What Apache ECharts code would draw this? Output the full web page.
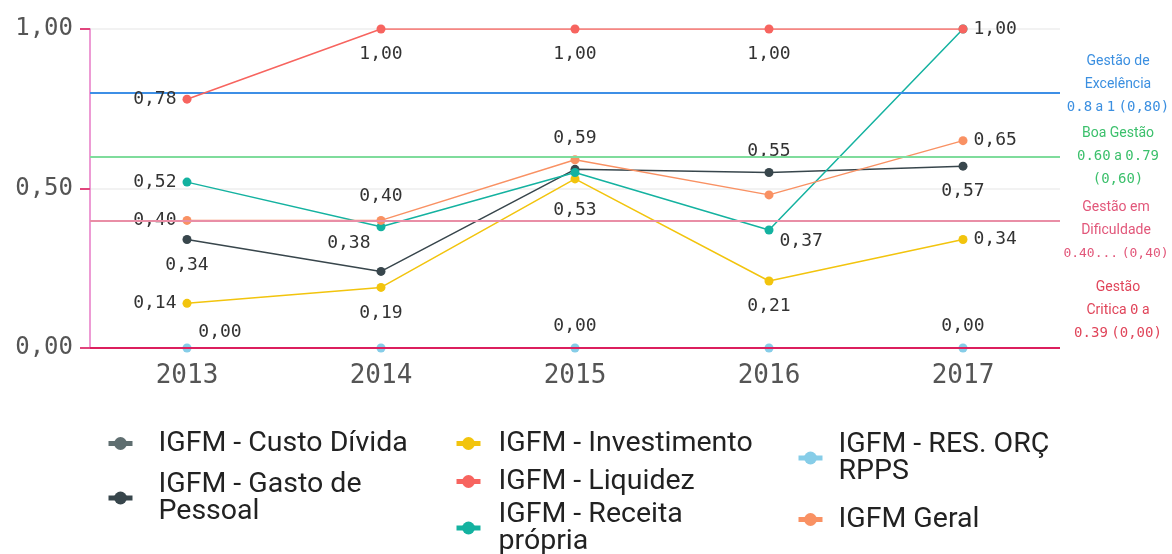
<!DOCTYPE html>
<html>
<head>
<meta charset="utf-8">
<script src="https://cdn.jsdelivr.net/npm/echarts@6/dist/echarts.min.js"></script>
<style>html,body{margin:0;padding:0;background:#fff;}#c{width:1172px;height:554px;}</style>
</head>
<body>
<div id="c"></div>
<script>
const years = ['2013', '2014', '2015', '2016', '2017'];
const custoDivida = [null, null, null, null, null];
const gastoPessoal = [0.34, 0.24, 0.56, 0.55, 0.57];
const investimento = [0.14, 0.19, 0.53, 0.21, 0.34];
const liquidez = [0.78, 1.00, 1.00, 1.00, 1.00];
const receitaPropria = [0.52, 0.38, 0.55, 0.37, 1.00];
const resOrcRpps = [0.00, 0.00, 0.00, 0.00, 0.00];
const geral = [0.40, 0.40, 0.59, 0.48, 0.65];
const yTickValues = [0.00, 0.50, 1.00];
const refValues = [0.80, 0.60, 0.40, 0.00];
const refTitles = [['Gestão de', 'Excelência'], ['Boa Gestão'], ['Gestão em', 'Dificuldade'], ['Gestão', 'Critica {m|0} a']];
const refRanges = ['{m|0.8} a {m|1} {m|(0,80)}', '{m|0.60} a {m|0.79}\n{m|(0,60)}', '{m|0.40...} {m|(0,40)}', '{m|0.39} {m|(0,00)}'];

const MONO = '"DejaVu Sans Mono", monospace';
const SANS = 'Roboto, "Noto Sans", sans-serif';
const fmt = v => v.toFixed(2).replace('.', ',');

// label placement (style only, separate from values)
const place = {
  liquidez: ['left', 'bottom', 'bottom', 'bottom', 'right'],
  receita: ['left', {p: 'left', o: [0, 17]}, null, {p: 'right', o: [0, 11]}, null],
  geral: ['left', {p: 'top', d: 11}, 'top', null, 'right'],
  gasto: ['bottom', null, null, 'top', 'bottom'],
  invest: ['left', 'bottom', {p: 'bottom', d: 18}, 'bottom', 'right'],
  rpps: [{p: 'top', o: [33, 0], d: 2}, null, {p: 'top', d: 8}, null, {p: 'top', d: 8}]
};
function build(values, pl) {
  return values.map((v, i) => {
    const c = pl ? pl[i] : null;
    if (v === null) return null;
    if (!c) return {value: v, label: {show: false}};
    const o = typeof c === 'string' ? {p: c} : c;
    const defD = o.p === 'bottom' ? 12 : (o.p === 'top' ? 8 : 6);
    return {value: v, label: {show: true, position: o.p, distance: o.d != null ? o.d : defD, offset: o.o || [0, 0]}};
  });
}
const labelBase = {show: true, formatter: p => fmt(p.value), fontFamily: MONO, fontSize: 18, color: '#333'};

function lineSeries(name, values, color, pl, z) {
  return {
    name, type: 'line', data: build(values, pl), symbol: 'circle', symbolSize: 9,
    itemStyle: {color}, lineStyle: {color, width: 1.5}, label: labelBase, z: z || 3
  };
}

const refColors = ['#3d8fe6', '#7fdc9c', '#e98ea6', '#dc1f5e'];
const refLabelColors = ['#3b8fe0', '#3cc06c', '#e2577a', '#e0455a'];
const refPads = [[0, 0, 16, 0], [0, 0, 0, 0], [20, 0, 0, 0], [0, 0, 76, 0]];
const refMonoSize = [14, 14, 13, 14];
const refDist = [58, 58, 56, 58];

const markData = refValues.map((v, i) => ({
  yAxis: v,
  lineStyle: {color: refColors[i], width: 2, type: 'solid'},
  label: {
    show: true, position: 'end', distance: refDist[i], align: 'center',
    padding: refPads[i],
    formatter: refTitles[i].join('\n') + '\n' + refRanges[i],
    color: refLabelColors[i], fontFamily: SANS, fontSize: 14, lineHeight: 23,
    rich: {m: {fontFamily: MONO, fontSize: refMonoSize[i], color: refLabelColors[i], lineHeight: 23}}
  }
}));

const legendItems = [
  {name: 'IGFM - Custo Dívida', left: 106, top: 429, pad: 21},
  {name: 'IGFM - Gasto de Pessoal', left: 106, top: 470, pad: 21, text: 'IGFM - Gasto de\nPessoal'},
  {name: 'IGFM - Investimento', left: 454, top: 429, pad: 13},
  {name: 'IGFM - Liquidez', left: 454, top: 467, pad: 13},
  {name: 'IGFM - Receita própria', left: 454, top: 500, pad: 13, text: 'IGFM - Receita\nprópria'},
  {name: 'IGFM - RES. ORÇ RPPS', left: 796, top: 430, pad: 11, text: 'IGFM - RES. ORÇ\nRPPS'},
  {name: 'IGFM Geral', left: 796, top: 505, pad: 11}
];
const legends = legendItems.map(it => ({
  data: [it.name], left: it.left, top: it.top, orient: 'vertical', padding: 0,
  itemWidth: 24, itemHeight: 16, selectedMode: false,
  lineStyle: {width: 5},
  formatter: () => it.text || it.name,
  textStyle: {fontFamily: SANS, fontSize: 28.5, color: '#222', lineHeight: 27, padding: [0, 0, 0, it.pad]}
}));

const chart = echarts.init(document.getElementById('c'));
chart.setOption({
  animation: false,
  backgroundColor: '#fff',
  legend: legends,
  grid: {left: 90, right: 112, top: 29, bottom: 206, containLabel: false},
  xAxis: {
    type: 'category', data: years, boundaryGap: true,
    axisLine: {show: false}, axisTick: {show: false},
    axisLabel: {fontFamily: MONO, fontSize: 26, color: '#555', margin: 15}
  },
  yAxis: {
    type: 'value', min: yTickValues[0], max: yTickValues[yTickValues.length - 1], interval: 0.5,
    axisLine: {show: true, lineStyle: {color: '#e77ac6', width: 1.5}},
    axisTick: {show: true, length: 10, lineStyle: {color: '#e0457d', width: 2}},
    axisLabel: {fontFamily: MONO, fontSize: 24, color: '#555', margin: 17, formatter: v => fmt(v)},
    splitLine: {lineStyle: {color: '#eeeeee', width: 1.5}}
  },
  series: [
    {name: 'ref', type: 'line', data: [], silent: true, z: 1,
      markLine: {silent: true, symbol: ['none', 'none'], animation: false, data: markData}},
    lineSeries('IGFM - Custo Dívida', custoDivida, '#5f6e70', null),
    lineSeries('IGFM - Gasto de Pessoal', gastoPessoal, '#38464c', place.gasto),
    lineSeries('IGFM - Investimento', investimento, '#f2c40d', place.invest),
    lineSeries('IGFM - Liquidez', liquidez, '#f7645f', place.liquidez, 5),
    lineSeries('IGFM - Receita própria', receitaPropria, '#14b2a0', place.receita),
    lineSeries('IGFM - RES. ORÇ RPPS', resOrcRpps, '#86cde8', place.rpps),
    lineSeries('IGFM Geral', geral, '#f99163', place.geral)
  ]
});
</script>
</body>
</html>
